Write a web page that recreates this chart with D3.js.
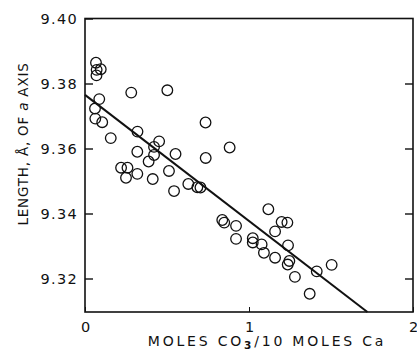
<!DOCTYPE html>
<html lang="en">
<head>
<meta charset="UTF-8">
<title>Lattice parameter vs carbonate</title>
<script src="https://d3js.org/d3.v7.min.js"></script>
<style>
    body { margin: 0; padding: 0; background: #fff; }
    svg { display: block; }
    text { font-family: "DejaVu Sans", sans-serif; fill: #111; }
</style>
</head>
<body>
<svg width="417" height="354"></svg>
<script>
    // moles CO3 / 10 moles Ca
    const moles = [0.067, 0.071, 0.096, 0.070, 0.087, 0.061, 0.063, 0.105, 0.157, 0.282,
        0.502, 0.320, 0.452, 0.735, 0.882, 0.736, 0.421, 0.421, 0.388, 0.552,
        0.220, 0.259, 0.250, 0.319, 0.413, 0.512, 0.543, 0.630, 0.685, 0.704,
        1.118, 0.837, 0.849, 0.921, 0.921, 1.023, 1.023, 1.077, 1.091, 1.159,
        1.199, 1.234, 1.238, 1.159, 1.246, 1.236, 1.280, 1.413, 1.504, 1.370, 0.319];
    // length of a axis, angstrom
    const length = [9.3864, 9.3842, 9.3844, 9.3825, 9.3752, 9.3723, 9.3692, 9.3681, 9.3632, 9.3772,
        9.3779, 9.3652, 9.3622, 9.3680, 9.3603, 9.3571, 9.3605, 9.3580, 9.3560, 9.3583,
        9.3541, 9.3541, 9.3510, 9.3522, 9.3506, 9.3531, 9.3469, 9.3491, 9.3481, 9.3480,
        9.3413, 9.3380, 9.3372, 9.3362, 9.3322, 9.3324, 9.3311, 9.3305, 9.3279, 9.3345,
        9.3374, 9.3372, 9.3302, 9.3264, 9.3254, 9.3243, 9.3205, 9.3222, 9.3242, 9.3153, 9.3590];
    // fitted line
    const fitIntercept = 9.3765;
    const fitSlope = -0.0388;

    const xTicks = [0, 1, 2];
    const yTicks = [9.32, 9.34, 9.36, 9.38, 9.40];

    const svg = d3.select("svg");
    const mLeft = 85, mRight = 413, mTop = 18.5, mBottom = 312;

    const x = d3.scaleLinear().domain([0, 2]).range([mLeft, mRight]);
    const y = d3.scaleLinear().domain([9.40 - (mBottom - mTop) / 3250, 9.40]).range([mBottom, mTop]);

    // frame
    svg.append("rect")
        .attr("x", mLeft).attr("y", mTop)
        .attr("width", mRight - mLeft).attr("height", mBottom - mTop)
        .attr("fill", "none").attr("stroke", "#111").attr("stroke-width", 1.6);

    // left axis, inward ticks
    const yAxis = d3.axisLeft(y).tickValues(yTicks).tickFormat(d3.format(".2f"))
        .tickSizeInner(-8).tickSizeOuter(0).tickPadding(7);
    const gy = svg.append("g").attr("transform", `translate(${mLeft},0)`).call(yAxis);
    gy.select(".domain").remove();
    gy.selectAll("line").attr("stroke", "#111").attr("stroke-width", 1.4);
    gy.selectAll("text").attr("font-size", 14.5).attr("letter-spacing", 1.3).attr("fill", "#111");

    // right axis ticks only
    const gr = svg.append("g").attr("transform", `translate(${mRight},0)`)
        .call(d3.axisRight(y).tickValues(yTicks.slice(0, 4)).tickSizeInner(-8).tickSizeOuter(0).tickFormat(""));
    gr.select(".domain").remove();
    gr.selectAll("line").attr("stroke", "#111").attr("stroke-width", 1.4);

    // bottom axis
    const xAxis = d3.axisBottom(x).tickValues(xTicks).tickFormat(d3.format("d"))
        .tickSizeInner(-5).tickSizeOuter(0).tickPadding(10);
    const gx = svg.append("g").attr("transform", `translate(0,${mBottom})`).call(xAxis);
    gx.select(".domain").remove();
    gx.selectAll("line").attr("stroke", "#111").attr("stroke-width", 1);
    gx.selectAll("text").attr("font-size", 14.5).attr("fill", "#111");

    // fitted line, clipped to the plot box
    const xEnd = Math.min(2, (y.domain()[0] - fitIntercept) / fitSlope);
    svg.append("line")
        .attr("x1", x(0)).attr("y1", y(fitIntercept))
        .attr("x2", x(xEnd)).attr("y2", y(fitIntercept + fitSlope * xEnd))
        .attr("stroke", "#111").attr("stroke-width", 2);

    // points
    svg.append("g").selectAll("circle")
        .data(moles.map((m, i) => [m, length[i]]))
        .join("circle")
        .attr("cx", d => x(d[0]))
        .attr("cy", d => y(d[1]))
        .attr("r", 5.3)
        .attr("fill", "none")
        .attr("stroke", "#111")
        .attr("stroke-width", 1.3);

    // axis titles
    const xt = svg.append("text")
        .attr("x", 267).attr("y", 346)
        .attr("text-anchor", "middle")
        .attr("font-size", 14).attr("letter-spacing", 2.8);
    xt.append("tspan").text("MOLES CO");
    xt.append("tspan").attr("font-size", 10.5).attr("font-weight", "bold").attr("dy", 3).text("3");
    xt.append("tspan").attr("dy", -3).text("/10 MOLES Ca");

    const yt = svg.append("text")
        .attr("transform", "translate(28,144) rotate(-90)")
        .attr("text-anchor", "middle")
        .attr("font-size", 13.5).attr("letter-spacing", 0.8);
    yt.append("tspan").text("LENGTH, Å, OF ");
    yt.append("tspan").attr("font-style", "italic").text("a");
    yt.append("tspan").text(" AXIS");
</script>
</body>
</html>
